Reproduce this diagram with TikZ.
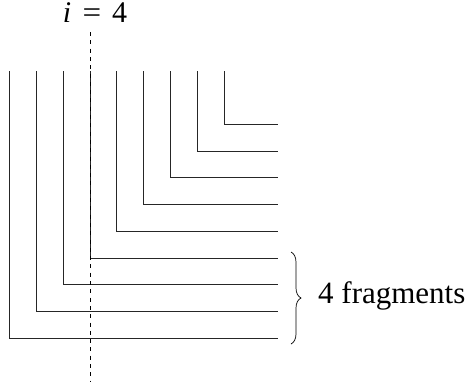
\documentclass[tikz,border=0pt]{standalone}
\usepackage{fontspec}
\setmainfont{Liberation Serif}
\usetikzlibrary{decorations.pathreplacing}
\begin{document}
\begin{tikzpicture}[x=1pt,y=-1pt,
  lshape/.style={draw=black!85,line width=0.9pt},
  cutline/.style={draw=black,line width=0.8pt,dash pattern=on 4pt off 4.3pt},
  bigtext/.style={inner sep=0pt,anchor=base,font=\fontsize{31}{37}\selectfont},
  mathtext/.style={inner sep=0pt,anchor=base,font=\fontsize{30}{36}\selectfont}]
\useasboundingbox (0,0) rectangle (472,386);
% L-shaped fragments
\foreach \k in {0,...,8}{
  \pgfmathsetmacro{\xx}{9.5+26.85*\k}
  \pgfmathsetmacro{\yy}{338.3-26.75*\k}
  \coordinate (top\k) at (\xx,71);
  \coordinate (end\k) at (277.7,\yy);
  \draw[lshape] (top\k) |- (end\k);
}
% dashed cut line
\coordinate (cuttop) at (90.3,32);
\coordinate (cutbot) at (90.3,381);
\draw[cutline] (cuttop) -- (cutbot);
% label i = 4
\node[mathtext] (ilabel) at (67,22) {\textit{i}};
\node[mathtext] (eqlabel) at (92,22) {\scalebox{1.1}[1]{=}};
\node[mathtext] (nlabel) at (119.5,22) {4};
% brace
\coordinate (bracetop) at (291,252);
\coordinate (bracebot) at (291,344);
\draw[line width=0.7pt,decorate,decoration={brace,amplitude=10pt,aspect=0.5}] (bracetop) -- (bracebot);
\node[bigtext,anchor=base west] (frag) at (318,303) {4 fragments};
\end{tikzpicture}
\end{document}
